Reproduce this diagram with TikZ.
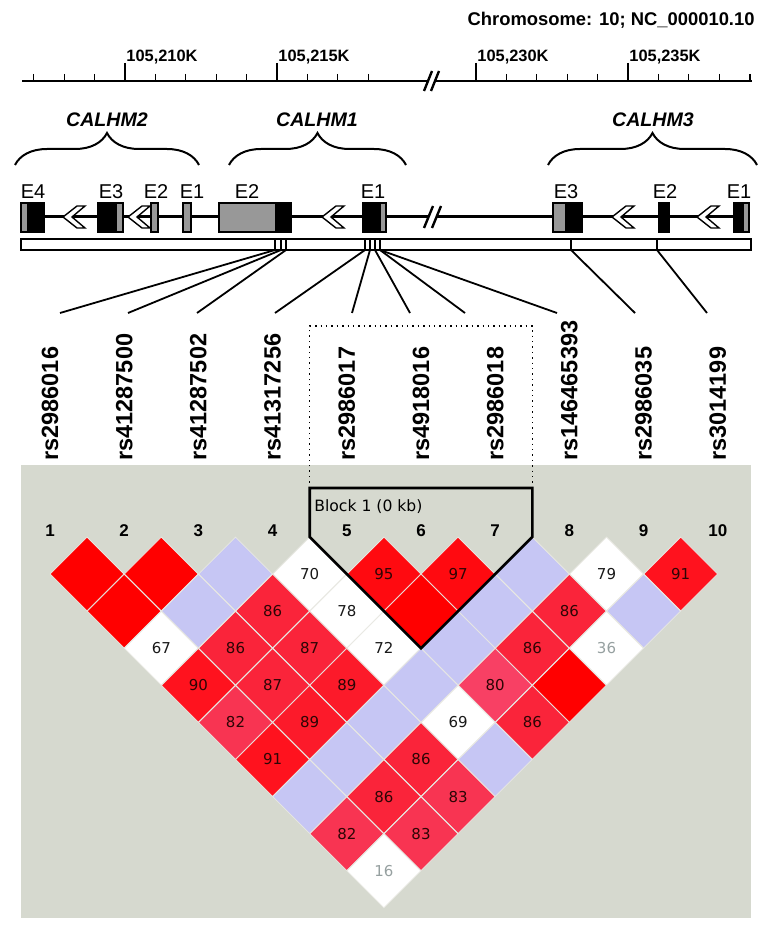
\documentclass[tikz,border=0pt]{standalone}
\usepackage{fontspec}
\setmainfont{Liberation Sans}
\newfontfamily\hvfont{DejaVu Sans}
\usetikzlibrary{shapes.geometric, decorations.pathreplacing, positioning}

\definecolor{ldbg}{RGB}{214,217,207}
\definecolor{exgrey}{RGB}{152,152,152}
\definecolor{ldblue}{RGB}{198,198,244}
\definecolor{ldgrid}{RGB}{232,232,226}
\definecolor{ldtext}{RGB}{45,5,5}

\tikzset{
    cell/.style={diamond, aspect=1, minimum width=37.1pt, minimum height=37.1pt, inner sep=0pt,
        draw=ldgrid, line width=0.4pt, font=\hvfont\fontsize{7.5}{8}\selectfont, text=ldtext},
    ldred/.style={fill={rgb,255:red,255;green,0;blue,0}},
    ld95/.style={fill={rgb,255:red,255;green,10;blue,16}},
    ld91/.style={fill={rgb,255:red,255;green,18;blue,30}},
    ld89/.style={fill={rgb,255:red,252;green,26;blue,42}},
    ld86/.style={fill={rgb,255:red,250;green,36;blue,58}},
    ld83/.style={fill={rgb,255:red,248;green,52;blue,82}},
    ld80/.style={fill={rgb,255:red,248;green,64;blue,100}},
    ldblue/.style={fill=ldblue},
    ldwhite/.style={fill=white, text=black!90},
    ldfaint/.style={fill=white, text={rgb,255:red,150;green,160;blue,160}}
}

\begin{document}
\begin{tikzpicture}[
    x=0.5pt, y=-0.5pt,
    ruler/.style={line width=1.2pt},
    tick/.style={line width=0.6pt},
    ticklbl/.style={font=\fontsize{8.2}{9}\selectfont\bfseries, inner sep=0pt, anchor=base west},
    gene/.style={font=\fontsize{9.8}{10}\selectfont\bfseries\itshape},
    brc/.style={decorate, decoration={brace, amplitude=16pt}, line width=1pt},
    exon/.style={draw, line width=0.7pt},
    exlbl/.style={font=\fontsize{10}{10}\selectfont, inner sep=0pt, anchor=base},
    chev/.style={draw, fill=white, line width=0.7pt, line join=miter},
    link/.style={line width=0.9pt},
    snp/.style={font=\fontsize{11.75}{12}\selectfont\bfseries, rotate=90, anchor=west, inner sep=0pt},
    marker/.style={font=\fontsize{8.5}{9}\selectfont\bfseries, inner sep=0pt},
    block/.style={line width=1.3pt, line join=miter}
]
\useasboundingbox (0,0) rectangle (771,935);

% ruler
\node[font=\fontsize{9.2}{10}\selectfont\bfseries, anchor=east, inner sep=0pt] (chrom) at (755,20) {Chromosome: 10; NC\_000010.10};
\draw[ruler] (22,81) -- (428,81);
\draw[ruler] (436,81) -- (752,81);
\draw[ruler] (424,91) -- (432,71);
\draw[ruler] (431,91) -- (439,71);
\foreach \x in {33.8,64.2,94.6,155.4,185.8,216.2,246.6,307.4,337.8,368.2,506.4,536.8,567.2,597.6,658.4,688.8,719.2,750}
    \draw[tick] (\x,74) -- (\x,81);
\foreach \x/\t in {125/105{,}210K, 277/105{,}215K, 476/105{,}230K, 628/105{,}235K} {
    \draw[tick] (\x,63) -- (\x,81);
    \node[ticklbl] (k\x) at (\x+1,62) {\t};
}

% genes
\draw[brc] (15,165) -- (199,165);
\draw[brc] (229,165) -- (406,165);
\draw[brc] (548,165) -- (757,165);
\node[gene] (calhm2) at (107,120) {CALHM2};
\node[gene] (calhm1) at (317,120) {CALHM1};
\node[gene] (calhm3) at (653,120) {CALHM3};

\draw[ruler, line width=1.5pt] (21,217) -- (429,217);
\draw[ruler, line width=1.5pt] (436,217) -- (749,217);
\draw[ruler] (424,228) -- (433,206);
\draw[ruler] (432,228) -- (441,206);
\foreach \t in {63,128,322,612,697}
    \draw[chev] (\t,217) -- ++(14,-11) -- ++(8,0) -- ++(-13,11) -- ++(13,11) -- ++(-8,0) -- cycle;
\foreach \a/\b/\c in {21/28/exgrey, 28/44/black, 98/116/black, 116/123/exgrey, 151/158/exgrey,
    183/191/exgrey, 219/276/exgrey, 276/291/black, 363/380/black, 380/386/exgrey,
    553/566/exgrey, 566/582/black, 659/669/black, 734/743/black, 743/749/exgrey}
    \draw[exon, fill=\c] (\a,203) rectangle (\b,232);
\foreach \x/\e [count=\n] in {33/E4, 111/E3, 156/E2, 192/E1, 247/E2, 373/E1, 566/E3, 665/E2, 739/E1}
    \node[exlbl] (ex\n) at (\x,199) {\e};

% snp bar
\draw[exon, fill=white] (21,239) rectangle (751,250);
\foreach \x in {275,281,286,365,370,375,380,571,657}
    \draw[exon] (\x,239) -- (\x,250);

% snp names
\foreach \k/\s in {1/rs2986016, 2/rs41287500, 3/rs41287502, 4/rs41317256, 5/rs2986017,
    6/rs4918016, 7/rs2986018, 8/rs146465393, 9/rs2986035, 10/rs3014199}
    \node[snp] (snp\k) at ({50+74.2*(\k-1)},461) {\s};
\foreach \k/\p/\e in {1/275/60, 2/281/128, 3/286/197, 4/365/275, 5/370/352,
    6/375/410, 7/380/465, 8/380/557, 9/571/635, 10/657/707} {
    \coordinate (p\k) at (\p,250);
    \coordinate (e\k) at (\e,313);
    \draw[link] (p\k) -- (e\k);
}

% LD plot
\fill[ldbg] (21,465) rectangle (751,918);
\draw[dotted, line width=0.7pt] (309.7,488) -- (309.7,326) -- (532.3,326) -- (532.3,488);
\foreach \k in {1,...,10}
    \node[marker] (m\k) at ({50+74.2*(\k-1)},531) {\k};
\foreach \i/\j/\v/\c in {1/2//ldred, 2/3//ldred, 3/4//ldblue, 4/5/70/ldwhite, 5/6/95/ld95,
    6/7/97/ld95, 7/8//ldblue, 8/9/79/ldwhite, 9/10/91/ld91,
    1/3//ldred, 2/4//ldblue, 3/5/86/ld86, 4/6/78/ldwhite, 5/7//ldred, 6/8//ldblue, 7/9/86/ld86, 8/10//ldblue,
    1/4/67/ldwhite, 2/5/86/ld86, 3/6/87/ld86, 4/7/72/ldwhite, 5/8//ldblue, 6/9/86/ld86, 7/10/36/ldfaint,
    1/5/90/ld91, 2/6/87/ld86, 3/7/89/ld89, 4/8//ldblue, 5/9/80/ld80, 6/10//ldred,
    1/6/82/ld83, 2/7/89/ld89, 3/8//ldblue, 4/9/69/ldwhite, 5/10/86/ld86,
    1/7/91/ld91, 2/8//ldblue, 3/9/86/ld86, 4/10//ldblue,
    1/8//ldblue, 2/9/86/ld86, 3/10/83/ld83,
    1/9/82/ld83, 2/10/83/ld83,
    1/10/16/ldfaint}
    \node[cell, \c] (cell-\i-\j) at ({50+37.1*(\i+\j-2)},{574+37.1*(\j-\i-1)}) {\v};
\draw[block] (309.7,488) -- (532.3,488) -- (532.3,536.9) -- (421,648.2) -- (309.7,536.9) -- cycle;
\node[font=\hvfont\fontsize{7.8}{8}\selectfont, anchor=west, inner sep=0pt] (blk) at (314,507) {Block 1 (0 kb)};
\end{tikzpicture}
\end{document}
